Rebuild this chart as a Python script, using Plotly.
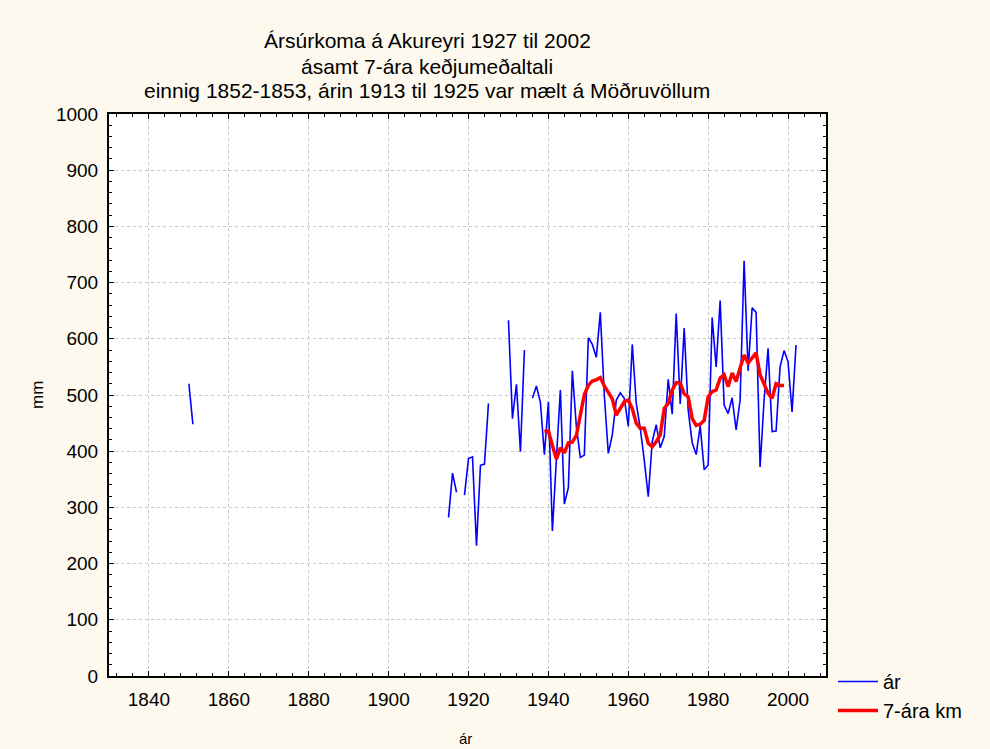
import plotly.graph_objects as go

# ---- data ----
years = [1850, 1851, 1852] + list(range(1915, 2003))   # 1852 is a gap marker
rain = [520, 448, None,
        282, 361, 327, None, 322, 387, 390, 232, 375, 377, 485,   # 1915-1925
        None, None, None, None,                                   # 1926-1929
        633, 458, 519, 399, 580, None,                            # 1930-1935
        494, 516, 487, 394, 488, 258, 386, 509, 306, 335,         # 1936-1945
        543, 444, 389, 393, 602, 590, 567, 647, 500, 396,         # 1946-1955
        429, 491, 504, 494, 444, 590, 485, 441, 384, 319,         # 1956-1965
        417, 447, 406, 426, 528, 466, 645, 484, 619, 473,         # 1966-1975
        415, 394, 445, 367, 375, 638, 550, 668, 482, 467,         # 1976-1985
        495, 438, 491, 739, 543, 655, 647, 372, 491, 583,         # 1986-1995
        435, 436, 550, 579, 559, 470, 589]                        # 1996-2002

ma_years = list(range(1939, 2000))
ma_vals = [435, 436, 410, 386, 406, 397, 415, 416, 428, 468,      # 1939-1948
           501, 517, 525, 527, 531, 516, 503, 493, 464, 476,      # 1949-1958
           488, 491, 476, 450, 441, 441, 414, 408, 417, 429,      # 1959-1968
           476, 485, 509, 522, 521, 502, 497, 458, 446, 448,      # 1969-1978
           455, 497, 506, 509, 530, 536, 515, 539, 524, 548,      # 1979-1988
           571, 557, 567, 575, 536, 518, 503, 494, 520, 517,      # 1989-1998
           517]                                                   # 1999

title_lines = ["Ársúrkoma á Akureyri 1927 til 2002",
               "ásamt 7-ára keðjumeðaltali",
               "einnig 1852-1853, árin 1913 til 1925 var mælt á Möðruvöllum"]

FONT = "Liberation Sans, Arial, sans-serif"

fig = go.Figure()
fig.add_trace(go.Scatter(x=years, y=rain, mode="lines", name="ár",
                         line=dict(color="#0000FF", width=1.6),
                         connectgaps=False))
fig.add_trace(go.Scatter(x=ma_years, y=ma_vals, mode="lines", name="7-ára km",
                         line=dict(color="#FF0000", width=3.5)))

axis_common = dict(showline=True, linecolor="black", linewidth=2, mirror="ticks",
                   ticks="inside", ticklen=5, tickwidth=1, tickcolor="black",
                   showgrid=True, gridcolor="#C8C8C8", griddash="dot", gridwidth=1,
                   zeroline=False,
                   tickfont=dict(family=FONT, size=19, color="black"))

fig.update_xaxes(range=[1830, 2009.5], tick0=1840, dtick=20, ticklabelstandoff=5,
                 minor=dict(dtick=4, tick0=1840, ticks="inside", ticklen=3,
                            tickcolor="black", showgrid=False),
                 **axis_common)
fig.update_yaxes(range=[0, 1000], tick0=0, dtick=100, ticklabelstandoff=5,
                 minor=dict(dtick=20, ticks="inside", ticklen=3,
                            tickcolor="black", showgrid=False),
                 **axis_common)

annotations = []
for t, py in zip(title_lines, [41, 66, 91]):
    annotations.append(dict(text=t, xref="paper", yref="paper",
                            x=(427 - 109) / 717, y=(676 - py) / 562,
                            xanchor="center", yanchor="middle", showarrow=False,
                            font=dict(family=FONT, size=21, color="black")))
annotations.append(dict(text="mm", xref="paper", yref="paper",
                        x=(37 - 109) / 717, y=(676 - 395) / 562, textangle=-90,
                        xanchor="center", yanchor="middle", showarrow=False,
                        font=dict(family=FONT, size=17, color="black")))
annotations.append(dict(text="ár", xref="paper", yref="paper",
                        x=(465 - 109) / 717, y=(676 - 738) / 562,
                        xanchor="center", yanchor="middle", showarrow=False,
                        font=dict(family=FONT, size=15, color="black")))

fig.update_layout(
    width=990, height=749,
    margin=dict(l=109, r=164, t=114, b=73),
    paper_bgcolor="#FEF9EE", plot_bgcolor="white",
    showlegend=True,
    legend=dict(x=(833 - 109) / 717, y=(676 - 662) / 562, xanchor="left", yanchor="top",
                bgcolor="rgba(0,0,0,0)", font=dict(family=FONT, size=20, color="black"),
                itemwidth=40, tracegroupgap=0),
    annotations=annotations,
)

fig.write_html("out.html", config={"displayModeBar": False},
               post_script="document.body.style.margin='0';document.body.style.overflow='hidden';")
